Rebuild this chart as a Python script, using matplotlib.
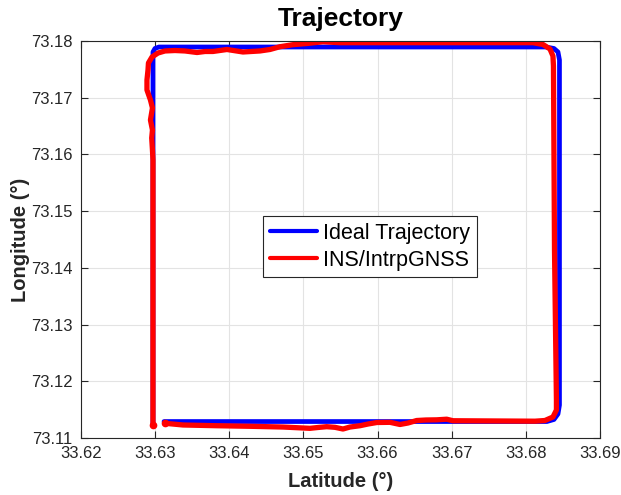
import numpy as np
import matplotlib
matplotlib.use('Agg')
import matplotlib.pyplot as plt

plt.rcParams['font.family'] = ['Liberation Sans', 'DejaVu Sans']

# ideal trajectory (latitude, longitude)
ideal_lat = [33.62971, 33.62971, 33.62998, 33.63052, 33.68272, 33.68380, 33.68434,
             33.68454, 33.68454, 33.68434, 33.68380, 33.68285, 33.63120]
ideal_lon = [73.11229, 73.17806, 73.17868, 73.17894, 73.17894, 73.17868, 73.17806,
             73.17665, 73.11581, 73.11423, 73.11326, 73.11290, 73.11290]

# INS / interpolated GNSS solution
ins_lat = [33.62971, 33.62971, 33.62971, 33.62964, 33.62954, 33.62964, 33.62937, 33.62964,
           33.62937, 33.62890, 33.62890, 33.62904, 33.62910, 33.62958, 33.63039, 33.63133,
           33.63268, 33.63403, 33.63565, 33.63673, 33.63780, 33.63969, 33.64185, 33.64414,
           33.64549, 33.64684, 33.64859, 33.65048, 33.65264, 33.65493, 33.65898, 33.66977,
           33.68097, 33.68232, 33.68326, 33.68366, 33.68373, 33.68387, 33.68413, 33.68413,
           33.68366, 33.68258, 33.68124, 33.67018, 33.66933, 33.66798, 33.66653, 33.66528,
           33.66411, 33.66303, 33.66168, 33.65992, 33.65871, 33.65763, 33.65628, 33.65534,
           33.65426, 33.65314, 33.65197, 33.65089, 33.64725, 33.64280, 33.63830, 33.63376,
           33.63133]
ins_lon = [73.11229, 73.14315, 73.15902, 73.16078, 73.16290, 73.16431, 73.16607, 73.16819,
           73.16960, 73.17136, 73.17312, 73.17489, 73.17612, 73.17718, 73.17788, 73.17824,
           73.17832, 73.17824, 73.17797, 73.17815, 73.17815, 73.17850, 73.17806, 73.17824,
           73.17850, 73.17899, 73.17935, 73.17956, 73.17986, 73.17970, 73.17970, 73.17970,
           73.17970, 73.17938, 73.17859, 73.17735, 73.17559, 73.14315, 73.11670, 73.11493,
           73.11370, 73.11308, 73.11296, 73.11304, 73.11331, 73.11320, 73.11317, 73.11308,
           73.11264, 73.11238, 73.11276, 73.11273, 73.11246, 73.11216, 73.11193, 73.11158,
           73.11188, 73.11199, 73.11185, 73.11170, 73.11193, 73.11206, 73.11216, 73.11229,
           73.11259]

xticks = [33.62, 33.63, 33.64, 33.65, 33.66, 33.67, 33.68, 33.69]
yticks = [73.11, 73.12, 73.13, 73.14, 73.15, 73.16, 73.17, 73.18]

axcol = '#262626'

fig = plt.figure(figsize=(6.21, 4.95), dpi=100)
ax = fig.add_axes([0.1304, 0.1152, 0.8357, 0.802])

ax.plot(ideal_lat, ideal_lon, color='#0000ff', linewidth=3.4, label='Ideal Trajectory',
        solid_joinstyle='round', solid_capstyle='round')
ax.plot(ins_lat, ins_lon, color='#ff0000', linewidth=3.8, label='INS/IntrpGNSS',
        solid_joinstyle='round', solid_capstyle='round',
        marker='o', markersize=4.5, markevery=[0, len(ins_lat) - 1])

ax.set_xlim(33.62, 33.69)
ax.set_ylim(73.11, 73.18)
ax.set_xticks(xticks)
ax.set_yticks(yticks)
ax.set_xticklabels(['%.2f' % v for v in xticks])
ax.set_yticklabels(['%.2f' % v for v in yticks])

ax.grid(True, color='#e3e3e3', linewidth=0.8)
ax.set_axisbelow(True)
ax.tick_params(direction='in', length=5, width=0.8, colors=axcol, labelsize=12,
               top=True, right=True, pad=6)
for s in ax.spines.values():
    s.set_color(axcol)
    s.set_linewidth(0.8)

ax.set_title('Trajectory', fontsize=19, fontweight='bold', pad=11)
ax.set_xlabel('Latitude (°)', fontsize=14.5, fontweight='bold', color=axcol, labelpad=8)
ax.set_ylabel('Longitude (°)', fontsize=14.5, fontweight='bold', color=axcol, labelpad=1)

leg = ax.legend(loc='upper left', bbox_to_anchor=(0.351, 0.559), borderaxespad=0,
                fontsize=15.5, fancybox=False, framealpha=1, edgecolor=axcol,
                handlelength=2.2, handletextpad=0.3, borderpad=0.3, labelspacing=0.3)
leg.get_frame().set_linewidth(0.8)
for line in leg.get_lines():
    line.set_marker('')
    line.set_linewidth(3.0)

fig.savefig('out.png', dpi=100)
